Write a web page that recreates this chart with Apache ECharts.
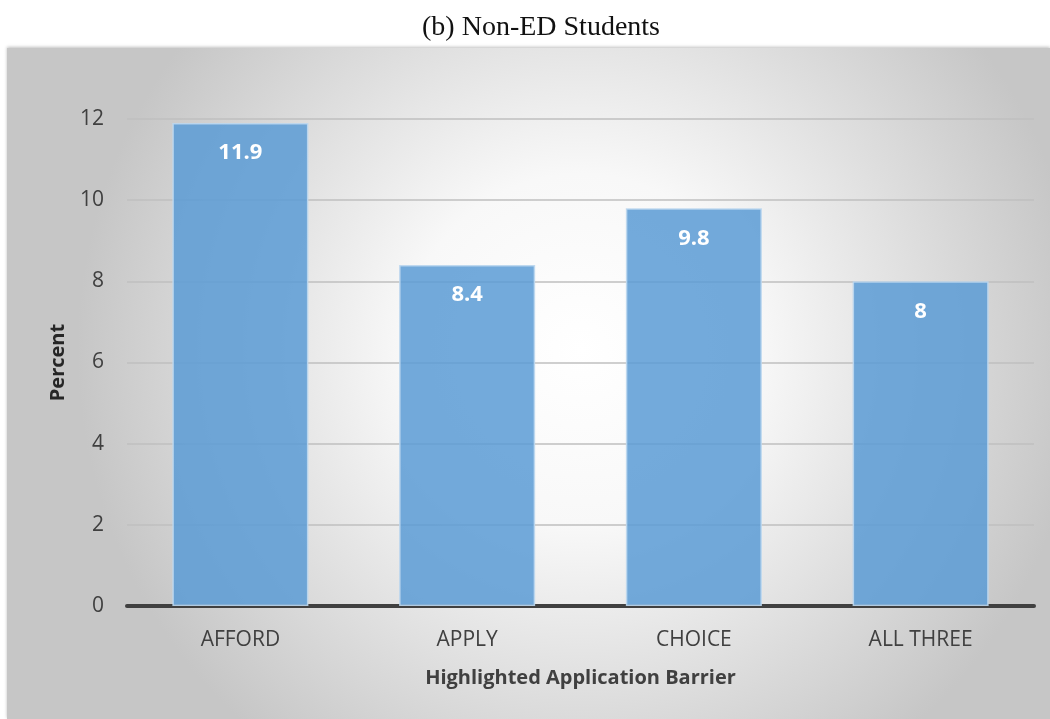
<!DOCTYPE html>
<html>
<head>
<meta charset="utf-8">
<script src="https://cdn.jsdelivr.net/npm/echarts@6/dist/echarts.min.js"></script>
<style>
  html, body { margin: 0; padding: 0; background: #ffffff; }
  #chart { width: 1050px; height: 719px; }
</style>
</head>
<body>
<div id="chart"></div>
<script>
// Share of non-ED students by highlighted application barrier
const categories = ['AFFORD', 'APPLY', 'CHOICE', 'ALL THREE'];
const percentValues = [11.9, 8.4, 9.8, 8];
const yTicks = [0, 2, 4, 6, 8, 10, 12];

const chart = echarts.init(document.getElementById('chart'));

const sansFont = '"Open Sans", "Liberation Sans", sans-serif';

chart.setOption({
  animation: false,
  backgroundColor: '#ffffff',
  title: {
    text: '(b) Non-ED Students',
    left: 536,
    textAlign: 'center',
    top: 9,
    textStyle: {
      fontFamily: '"Liberation Serif", "DejaVu Serif", serif',
      fontWeight: 'normal',
      fontSize: 28,
      color: '#111111'
    }
  },
  graphic: [
    {
      type: 'rect',
      z: -10,
      shape: { x: 7, y: 48, width: 1043, height: 671 },
      style: {
        fill: {
          type: 'radial', x: 0.55, y: 0.45, r: 0.75,
          colorStops: [
            { offset: 0, color: '#ffffff' },
            { offset: 0.35, color: '#f8f8f8' },
            { offset: 1, color: '#c6c6c6' }
          ]
        },
        shadowBlur: 3,
        shadowColor: 'rgba(0,0,0,0.25)',
        shadowOffsetY: -1
      }
    }
  ],
  grid: {
    left: 127,
    right: 16,
    top: 119,
    bottom: 113,
    containLabel: false
  },
  xAxis: {
    type: 'category',
    data: categories,
    name: 'Highlighted Application Barrier',
    nameLocation: 'middle',
    nameGap: 62,
    nameTextStyle: {
      fontFamily: sansFont,
      fontWeight: 'bold',
      fontSize: 20,
      color: '#404040'
    },
    axisLine: { lineStyle: { color: '#404040', width: 4 } },
    axisTick: { show: false },
    axisLabel: {
      fontFamily: sansFont,
      fontSize: 21,
      color: '#404040',
      margin: 24
    }
  },
  yAxis: {
    type: 'value',
    min: yTicks[0],
    max: yTicks[yTicks.length - 1],
    interval: 2,
    name: 'Percent',
    nameLocation: 'middle',
    nameGap: 59,
    nameRotate: 90,
    nameTextStyle: {
      fontFamily: sansFont,
      fontWeight: 'bold',
      fontSize: 20,
      color: '#262626'
    },
    axisLine: { show: false },
    axisTick: { show: false },
    axisLabel: {
      fontFamily: sansFont,
      fontSize: 21,
      color: '#404040',
      margin: 23
    },
    splitLine: { lineStyle: { color: '#bfbfbf', width: 1.5 } }
  },
  series: [
    {
      type: 'bar',
      data: percentValues,
      barCategoryGap: '40%',
      itemStyle: {
        color: 'rgba(91,155,213,0.85)',
        borderColor: 'rgba(189,215,238,0.9)',
        borderWidth: 1.5
      },
      label: {
        show: true,
        position: 'insideTop',
        distance: 19,
        fontFamily: sansFont,
        fontWeight: 'bold',
        fontSize: 22,
        color: '#ffffff'
      }
    }
  ]
});
</script>
</body>
</html>
